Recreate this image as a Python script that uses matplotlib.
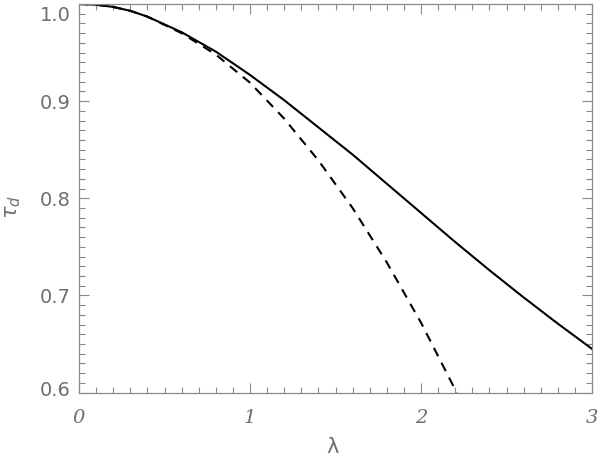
import numpy as np
import matplotlib
matplotlib.use('Agg')
import matplotlib.pyplot as plt
from matplotlib.ticker import MultipleLocator
from matplotlib.transforms import ScaledTranslation

# values
lam_full = [0.0, 0.1, 0.2, 0.3, 0.4, 0.6, 0.8, 1.0, 1.2, 1.4, 1.6, 1.8, 2.0, 2.2, 2.4, 2.6, 2.8, 3.0]
tau_full = [1.000, 0.9993, 0.9970, 0.9930, 0.987, 0.971, 0.951, 0.927, 0.901, 0.873, 0.845, 0.815,
            0.785, 0.755, 0.726, 0.698, 0.671, 0.645]

lam_approx = [0.0, 0.1, 0.2, 0.3, 0.4, 0.6, 0.8, 1.0, 1.2, 1.4, 1.6, 1.8, 2.0, 2.2, 2.21]
tau_approx = [1.000, 0.9993, 0.9970, 0.9930, 0.987, 0.970, 0.948, 0.919, 0.882, 0.839, 0.790, 0.734,
              0.672, 0.603, 0.600]

x_ticks = [0, 1, 2, 3]
y_ticks = [0.6, 0.7, 0.8, 0.9, 1.0]

axis_col = '#8a8a8a'
text_col = '#6e6e6e'

fig = plt.figure(figsize=(6.0, 4.57), dpi=100)
ax = fig.add_axes([0.1317, 0.1409, 0.855, 0.8503])

ax.plot(lam_full, tau_full, color='black', lw=1.5)
ax.plot(lam_approx, tau_approx, color='black', lw=1.5, ls=(0, (4.5, 3.5)))

ax.set_xlim(0, 3)
ax.set_ylim(0.6, 1.0)
ax.set_xticks(x_ticks)
ax.set_yticks(y_ticks)
ax.set_xticklabels([str(v) for v in x_ticks], fontfamily='DejaVu Serif',
                   fontstyle='italic', fontsize=14, color=text_col)
ax.set_yticklabels([f'{v:.1f}' for v in y_ticks], fontfamily='DejaVu Sans',
                   fontsize=14, color=text_col)
ax.xaxis.set_minor_locator(MultipleLocator(0.1))
ax.yaxis.set_minor_locator(MultipleLocator(0.01))

ax.tick_params(which='both', direction='in', top=True, right=True,
               color=axis_col, width=0.8)
ax.tick_params(which='major', length=7.5)
ax.tick_params(which='minor', length=4)
ax.tick_params(axis='y', which='major', pad=6)
ax.tick_params(axis='x', which='major', pad=12)

for sp in ax.spines.values():
    sp.set_color(axis_col)
    sp.set_linewidth(0.9)

# nudge the end labels so they stay inside the picture like the original
ylabels = ax.get_yticklabels()
ylabels[-1].set_transform(ylabels[-1].get_transform() + ScaledTranslation(0, -9 / 100, fig.dpi_scale_trans))
ylabels[0].set_transform(ylabels[0].get_transform() + ScaledTranslation(0, 4 / 100, fig.dpi_scale_trans))

fig.text(333 / 600, 1 - 447 / 457, 'λ', ha='center', va='center',
         fontsize=15, color=text_col, fontfamily='DejaVu Sans')
fig.text(13 / 600, 1 - 207 / 457, r'$\tau_d$', ha='center', va='center',
         rotation=90, fontsize=15, color=text_col)

fig.savefig('out.png', dpi=100)
